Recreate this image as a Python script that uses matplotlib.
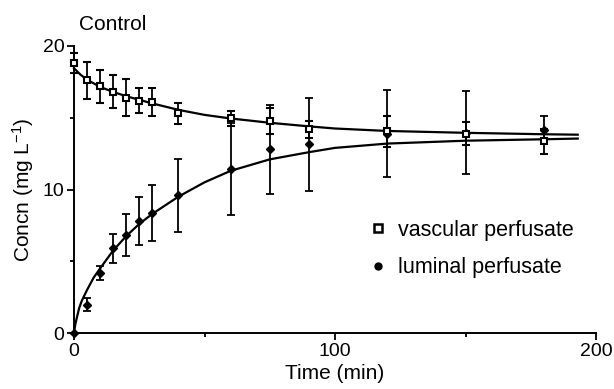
import matplotlib
matplotlib.use("Agg")
import matplotlib.pyplot as plt
from matplotlib.lines import Line2D

plt.rcParams["font.family"] = ["Liberation Sans", "DejaVu Sans"]
plt.rcParams["mathtext.fontset"] = "custom"
plt.rcParams["mathtext.rm"] = "Liberation Sans"
plt.rcParams["mathtext.it"] = "Liberation Sans:italic"

# sampling times (min)
times = [0, 5, 10, 15, 20, 25, 30, 40, 60, 75, 90, 120, 150, 180]

# vascular perfusate (open squares)
vasc_mean = [18.8, 17.6, 17.2, 16.8, 16.4, 16.2, 16.1, 15.3, 14.95, 14.75, 14.2, 14.05, 13.9, 13.35]
vasc_err = [0.7, 1.3, 1.15, 1.15, 1.3, 0.9, 0.95, 0.75, 0.5, 0.9, 0.6, 1.1, 0.8, 0.85]

# luminal perfusate (filled markers)
lum_mean = [0.0, 1.97, 4.17, 5.9, 6.85, 7.8, 8.33, 9.6, 11.4, 12.8, 13.15, 13.9, 13.97, 14.15]
lum_err = [0.0, 0.45, 0.47, 1.0, 1.47, 1.68, 1.95, 2.55, 3.2, 3.1, 3.25, 3.03, 2.87, 0.95]

# fitted curves
vasc_fit_t = [0, 2.5, 5, 10, 15, 20, 25, 30, 40, 50, 60, 75, 90, 100, 120, 150, 180, 193]
vasc_fit_y = [18.45, 18.0, 17.65, 17.15, 16.8, 16.5, 16.25, 16.0, 15.55, 15.2, 14.95,
              14.65, 14.4, 14.25, 14.08, 13.95, 13.85, 13.82]
lum_fit_t = [0, 0.5, 1, 2, 3, 5, 7.5, 10, 15, 20, 25, 30, 40, 50, 60, 75, 90, 100,
             120, 150, 180, 193]
lum_fit_y = [0.0, 0.6, 1.0, 1.75, 2.25, 3.0, 3.85, 4.5, 5.75, 6.75, 7.6, 8.3, 9.5,
             10.5, 11.3, 12.1, 12.6, 12.9, 13.2, 13.4, 13.5, 13.55]

fig = plt.figure(figsize=(6.14, 3.89), dpi=100)
ax = fig.add_axes([74 / 614, 1 - 333 / 389, (596 - 74) / 614, (333 - 46) / 389])

ax.plot(vasc_fit_t, vasc_fit_y, color="black", lw=1.6, clip_on=False)
ax.plot(lum_fit_t, lum_fit_y, color="black", lw=1.6, clip_on=False)

ax.errorbar(times, lum_mean, yerr=lum_err, fmt="D", color="black", ms=4.5,
            capsize=3, elinewidth=1.3, capthick=1.3, clip_on=False, zorder=3)
ax.errorbar(times, vasc_mean, yerr=vasc_err, fmt="s", color="black", mfc="white",
            mec="black", mew=1.5, ms=5, capsize=3, elinewidth=1.3, capthick=1.3,
            clip_on=False, zorder=4)

ax.set_xlim(0, 200)
ax.set_ylim(0, 20)
ax.set_xticks([0, 100, 200])
ax.set_xticks([50, 150], minor=True)
ax.set_yticks([0, 10, 20])
ax.set_yticks([5, 15], minor=True)
ax.tick_params(which="major", length=5, width=1.3, labelsize=14, pad=2)
ax.tick_params(which="minor", length=3, width=1.3)
for side in ["top", "right"]:
    ax.spines[side].set_visible(False)
for side in ["left", "bottom"]:
    ax.spines[side].set_linewidth(1.4)

ax.set_xlabel("Time (min)", fontsize=15, labelpad=3)
ax.set_ylabel("Concn (mg L$^{-1}$)", fontsize=15, labelpad=5)

fig.text(79 / 614, 1 - 30 / 389, "Control", fontsize=15, va="baseline")

handles = [
    Line2D([], [], ls="none", marker="s", mfc="white", mec="black", mew=1.8, ms=5.5),
    Line2D([], [], ls="none", marker="o", color="black", ms=5),
]
ax.legend(handles, ["vascular perfusate", "luminal perfusate"], frameon=False,
          loc="upper left", bbox_to_anchor=(372 / 614, 1 - 220 / 389),
          bbox_transform=fig.transFigure, fontsize=15.5, handlelength=0.6,
          handletextpad=0.6, labelspacing=0.75, borderpad=0, borderaxespad=0)

fig.savefig("out.png", dpi=100)
